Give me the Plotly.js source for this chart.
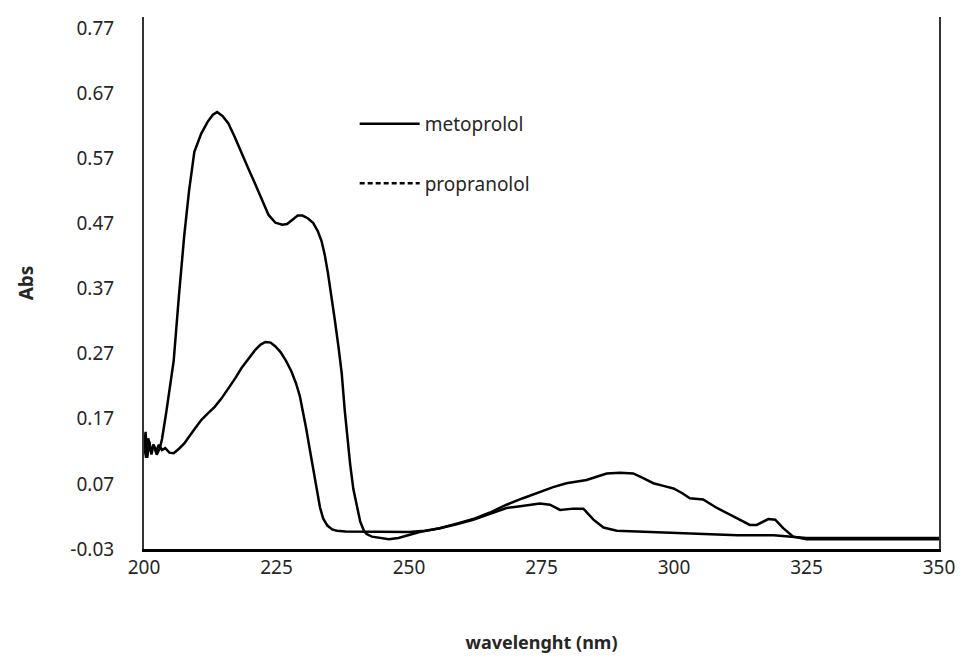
<!DOCTYPE html>
<html>
<head>
<meta charset="utf-8">
<script src="https://cdn.plot.ly/plotly-3.0.1.min.js"></script>
<style>html,body{margin:0;padding:0;background:#fff;}#chart{width:963px;height:663px;}</style>
</head>
<body>
<div id="chart"></div>
<script>
// wavelength (nm) and absorbance readings
const metoprololX = [200, 200.3, 200.6, 201, 201.4, 201.8, 202.3, 202.8, 203.4, 204, 204.8, 205.6, 206.6, 207.6, 209, 210.8, 212, 213.3, 214.6, 215.9, 217.2, 218.4, 219.7, 221, 222, 222.9, 223.9, 224.8, 225.8, 226.8, 227.8, 228.7, 229.4, 230.0, 230.6, 231.3, 232.0, 232.6, 233.2, 233.8, 234.6, 235.5, 236.4, 238, 240, 243, 246, 250, 253, 255.8, 259, 262.1, 265.3, 268.4, 270.3, 272.5, 274.7, 276.6, 278.5, 281.0, 282.9, 284.8, 286.7, 289.2, 295, 299.9, 306.2, 312, 318.8, 322, 325, 330, 335, 340, 345, 350];
const metoprololY = [0.12, 0.15, 0.11, 0.135, 0.115, 0.13, 0.12, 0.13, 0.122, 0.125, 0.118, 0.117, 0.124, 0.132, 0.148, 0.168, 0.178, 0.188, 0.201, 0.216, 0.232, 0.248, 0.263, 0.276, 0.284, 0.288, 0.287, 0.281, 0.272, 0.259, 0.243, 0.224, 0.205, 0.182, 0.155, 0.122, 0.088, 0.058, 0.034, 0.017, 0.006, 0.0, -0.002, -0.003, -0.003, -0.003, -0.004, -0.004, -0.002, 0.002, 0.008, 0.015, 0.024, 0.033, 0.035, 0.038, 0.040, 0.038, 0.030, 0.032, 0.032, 0.015, 0.003, -0.002, -0.004, -0.005, -0.008, -0.009, -0.009, -0.011, -0.013, -0.013, -0.013, -0.013, -0.013, -0.013];

const propranololX = [200, 200.4, 200.8, 201.3, 201.8, 202.4, 203.0, 203.4, 204.2, 205.0, 205.6, 206.6, 207.6, 208.5, 209.5, 210.8, 212.0, 213.0, 213.8, 214.8, 215.9, 217.1, 218.4, 219.7, 221.0, 222.2, 223.5, 224.8, 226.1, 227.0, 228.0, 229.0, 229.9, 230.9, 231.9, 232.8, 233.5, 234.1, 234.7, 235.4, 236.0, 236.7, 237.3, 237.9, 238.5, 238.9, 239.5, 240.2, 240.8, 241.5, 242.0, 243.0, 244.5, 246.2, 248, 250, 252, 254, 255.8, 259, 262.1, 265.3, 268.4, 271.5, 274.7, 277.2, 279.7, 281.6, 283.5, 285.4, 287.3, 289.8, 292.3, 294.2, 296.1, 298.0, 299.9, 301.5, 303.0, 305.5, 308.1, 311.2, 314.3, 315.6, 316.8, 317.8, 319.1, 320.6, 322.5, 325, 330, 335, 340, 345, 350];
const propranololY = [0.13, 0.11, 0.14, 0.12, 0.13, 0.115, 0.125, 0.139, 0.18, 0.228, 0.259, 0.36, 0.452, 0.52, 0.58, 0.608, 0.626, 0.637, 0.641, 0.635, 0.624, 0.603, 0.577, 0.554, 0.530, 0.506, 0.483, 0.471, 0.468, 0.469, 0.476, 0.482, 0.482, 0.478, 0.471, 0.458, 0.443, 0.422, 0.394, 0.358, 0.322, 0.280, 0.240, 0.181, 0.125, 0.1, 0.062, 0.035, 0.012, -0.002, -0.007, -0.011, -0.013, -0.015, -0.013, -0.008, -0.004, -0.001, 0.002, 0.009, 0.016, 0.026, 0.038, 0.048, 0.058, 0.065, 0.071, 0.073, 0.076, 0.081, 0.086, 0.087, 0.086, 0.079, 0.071, 0.067, 0.063, 0.056, 0.048, 0.046, 0.033, 0.020, 0.007, 0.007, 0.012, 0.016, 0.015, 0.002, -0.011, -0.015, -0.015, -0.015, -0.015, -0.015, -0.015];

const xTicks = [200, 225, 250, 275, 300, 325, 350];
const yTicks = [-0.03, 0.07, 0.17, 0.27, 0.37, 0.47, 0.57, 0.67, 0.77];
const yTickText = ['-0.03', '0.07', '0.17', '0.27', '0.37', '0.47', '0.57', '0.67', '0.77'];

const FONT = 'Noto Sans, Open Sans, sans-serif';
const traces = [
  {x: metoprololX, y: metoprololY, mode: 'lines', name: 'metoprolol', showlegend: false,
   line: {color: '#000', width: 2.5}, hoverinfo: 'skip'},
  {x: propranololX, y: propranololY, mode: 'lines', name: 'propranolol', showlegend: false,
   line: {color: '#000', width: 2.5}, hoverinfo: 'skip'},
  {x: [null], y: [null], mode: 'lines', name: 'metoprolol', legendgroup: 'a',
   line: {color: '#000', width: 2.5}},
  {x: [null], y: [null], mode: 'lines', name: 'propranolol', legendgroup: 'b',
   line: {color: '#000', width: 2.5, dash: '5px,3px'}}
];

const layout = {
  width: 963, height: 663,
  margin: {l: 144, r: 24, t: 17, b: 114},
  paper_bgcolor: '#fff', plot_bgcolor: '#fff',
  font: {family: FONT, color: '#262626', size: 18},
  showlegend: true,
  legend: {x: 0.265, y: 0.835, xanchor: 'left', yanchor: 'top', bgcolor: 'rgba(0,0,0,0)',
           traceorder: 'grouped', tracegroupgap: 32, font: {size: 19, family: FONT, color: '#262626'},
           itemwidth: 60},
  xaxis: {
    range: [200, 350], tickvals: xTicks, ticks: '', showgrid: false, zeroline: false,
    showline: true, linecolor: '#000', linewidth: 2.5, mirror: false,
    tickfont: {size: 19, family: FONT, color: '#262626'},
    title: {text: '<b>wavelenght (nm)</b>', font: {size: 18, family: FONT, color: '#262626'}, standoff: 57}
  },
  yaxis: {
    range: [-0.03, 0.787], tickvals: yTicks, ticktext: yTickText, ticks: '', showgrid: false, zeroline: false,
    showline: true, linecolor: '#333', linewidth: 2, mirror: true,
    tickfont: {size: 19, family: FONT, color: '#262626'}, ticklabelstandoff: 24,
    title: {text: '<b>Abs</b>', font: {size: 19, family: FONT, color: '#262626'}, standoff: 32}
  }
};

Plotly.newPlot('chart', traces, layout, {staticPlot: true, displayModeBar: false});
</script>
</body>
</html>
